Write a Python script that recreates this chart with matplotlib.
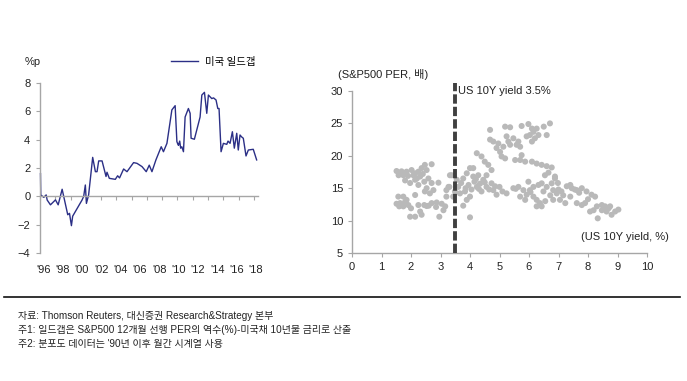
import numpy as np
import matplotlib
matplotlib.use("Agg")
import matplotlib.pyplot as plt
import matplotlib.transforms as mtransforms

plt.rcParams['font.family'] = ['Liberation Sans', 'Noto Sans CJK KR', 'DejaVu Sans']
plt.rcParams['axes.unicode_minus'] = True

# 미국 일드갭 (%p), 연도 소수 표기
gap_year = [1996.0, 1996.03, 1996.34, 1996.59, 1996.69, 1997.03, 1997.55, 1997.83, 1998.24,
            1998.82, 1999.0, 1999.2, 1999.33, 2000.3, 2000.47, 2000.64, 2000.75, 2000.98,
            2001.4, 2001.68, 2001.85, 2002.02, 2002.37, 2002.78, 2002.88, 2003.12, 2003.74,
            2003.98, 2004.18, 2004.6, 2004.95, 2005.63, 2005.98, 2006.5, 2006.94, 2007.25,
            2007.53, 2007.94, 2008.49, 2008.72, 2009.08, 2009.59, 2009.93, 2010.11, 2010.2,
            2010.27, 2010.4, 2010.5, 2010.62, 2010.79, 2010.96, 2011.3, 2011.48, 2011.58,
            2011.92, 2012.51, 2012.69, 2012.96, 2013.2, 2013.37, 2013.72, 2013.9, 2014.16,
            2014.34, 2014.47, 2014.68, 2014.92, 2015.27, 2015.4, 2015.61, 2015.85, 2016.05,
            2016.3, 2016.46, 2016.64, 2016.8, 2016.98, 2017.26, 2017.5, 2018.01, 2018.36]
gap_val = [1.6, 0.1, -0.07, 0.1, -0.26, -0.6, -0.25, -0.6, 0.5,
           -1.3, -1.2, -2.07, -1.4, -0.26, 0.0, 0.8, -0.5, 0.1,
           2.75, 1.74, 1.74, 2.5, 2.5, 1.4, 1.7, 1.27, 1.2,
           1.45, 1.3, 1.93, 1.74, 2.38, 2.33, 2.1, 1.74, 2.2,
           1.74, 2.57, 3.5, 3.15, 3.74, 6.1, 6.4, 3.86, 3.7,
           3.6, 3.9, 3.4, 3.5, 3.15, 5.6, 6.2, 5.86, 4.1,
           4.03, 5.6, 7.15, 7.34, 5.86, 7.15, 6.9, 6.95, 6.8,
           6.2, 6.2, 3.15, 3.74, 3.67, 3.9, 3.74, 4.56, 3.4,
           4.45, 3.27, 4.33, 4.2, 4.1, 2.85, 3.27, 3.32, 2.57]
year_labels = ["'96", "'98", "'00", "'02", "'04", "'06", "'08", "'10", "'12", "'14", "'16", "'18"]
year_label_pos = [1996, 1998, 2000, 2002, 2004, 2006, 2008, 2010, 2012, 2014, 2016, 2018]

# 분포도: 미국 10년물 금리(%) vs S&P500 PER(배)
yld = [1.51, 1.63, 1.74, 1.85, 2.02, 2.14, 2.25, 2.36, 2.47, 2.7, 2.53, 2.31, 2.14, 1.97, 2.59,
       2.7, 2.93, 2.53, 2.47, 2.64, 2.76, 2.25, 1.58, 1.68, 1.9, 2.08, 2.2, 2.4, 2.45, 1.8,
       1.57, 1.74, 1.85, 1.63, 1.51, 1.74, 1.91, 2.14, 2.25, 1.97, 2.14, 2.36, 2.31, 2.53, 2.7,
       2.87, 3.04, 3.16, 3.1, 2.96, 3.2, 3.2, 3.3, 3.38, 1.6, 1.8, 2.0, 2.45, 2.6, 2.85,
       3.27, 3.43, 3.32, 3.6, 3.77, 3.89, 4.0, 4.11, 3.83, 4.0, 3.89, 3.77, 4.0, 4.23, 4.34,
       4.45, 4.39, 4.56, 4.73, 4.79, 4.9, 5.0, 5.1, 5.24, 3.49, 3.55, 3.66, 4.11, 4.28, 4.56,
       4.23, 4.39, 4.5, 4.62, 4.73, 3.7, 3.95, 4.15, 4.3, 4.5, 4.65, 4.85, 3.85, 4.05, 4.2,
       4.68, 4.68, 4.79, 4.96, 4.9, 5.02, 5.13, 5.07, 5.19, 5.3, 5.24, 5.19, 5.36, 5.47, 5.64,
       5.7, 5.36, 5.58, 5.75, 5.75, 5.98, 6.1, 6.15, 6.26, 5.92, 6.03, 6.2, 6.32, 6.1, 6.5,
       6.71, 6.6, 5.53, 5.7, 5.87, 6.1, 6.26, 6.43, 6.6, 6.77, 6.66, 6.54, 6.88, 5.47, 5.64,
       5.81, 5.98, 6.03, 5.92, 6.15, 6.26, 6.37, 6.26, 6.43, 6.15, 6.32, 6.43, 6.49, 6.6, 6.77,
       6.82, 6.94, 6.88, 6.72, 6.82, 5.87, 5.7, 5.55, 6.05, 6.55, 7.0, 7.28, 7.45, 7.62, 7.79,
       7.95, 8.12, 8.24, 7.16, 7.05, 7.23, 7.4, 7.62, 7.79, 7.9, 8.07, 8.19, 8.3, 8.47, 8.58,
       8.47, 8.63, 8.8, 8.33, 8.92, 9.03, 8.75, 7.4, 7.55, 7.7, 8.0, 7.1, 6.98, 8.55, 8.7]
per = [17.65, 17.3, 17.0, 17.55, 17.8, 17.3, 17.55, 18.1, 18.6, 18.7, 17.8, 16.8, 16.3, 15.8, 16.5,
       15.8, 15.85, 15.0, 14.5, 14.2, 14.7, 15.5, 17.0, 17.6, 16.9, 17.0, 16.5, 17.2, 16.0, 16.2,
       13.7, 13.7, 13.2, 12.7, 12.6, 12.2, 12.4, 13.95, 12.4, 10.6, 10.6, 10.9, 11.4, 12.25, 12.7,
       12.8, 12.6, 12.2, 11.6, 10.6, 13.7, 14.7, 15.2, 17.0, 12.2, 12.9, 11.9, 12.4, 12.3, 12.1,
       15.2, 13.7, 17.0, 15.2, 16.5, 17.3, 18.1, 18.1, 14.5, 13.7, 13.2, 12.3, 10.5, 15.2, 15.7,
       16.3, 14.5, 15.2, 15.75, 14.7, 14.0, 15.2, 14.5, 14.2, 14.5, 16.3, 14.2, 16.8, 17.0, 17.0,
       20.4, 19.9, 19.1, 18.6, 17.8, 15.8, 15.5, 16.0, 14.9, 15.9, 14.8, 15.3, 15.0, 14.8, 16.4,
       24.0, 22.5, 22.2, 21.9, 21.2, 20.6, 21.4, 19.9, 19.6, 22.2, 23.0, 24.5, 24.4, 22.7, 22.2,
       21.4, 21.7, 21.7, 20.1, 24.6, 24.9, 24.2, 23.7, 24.2, 23.0, 23.2, 22.7, 23.2, 22.2, 24.5,
       25.0, 23.2, 19.35, 19.35, 19.1, 19.1, 18.8, 18.6, 18.4, 18.2, 17.4, 17.0, 16.8, 15.0, 15.2,
       14.7, 16.0, 14.7, 14.0, 13.7, 13.2, 12.7, 12.2, 12.2, 15.2, 15.5, 15.75, 14.5, 15.2, 15.75,
       14.7, 14.2, 16.5, 13.9, 13.2, 13.2, 13.7, 14.9, 14.4, 13.0, 14.8, 15.3, 15.0, 14.7, 15.0,
       14.5, 14.0, 13.7, 13.9, 13.2, 12.7, 13.7, 12.7, 12.4, 12.7, 11.4, 11.6, 12.2, 12.4, 12.2,
       11.6, 11.4, 10.9, 10.35, 11.4, 11.7, 12.2, 15.5, 14.8, 14.3, 13.3, 14.5, 15.8, 11.8, 11.9]

gray = '#a6a6a6'
txt = '#222222'

fig = plt.figure(figsize=(6.87, 3.81), dpi=100)

# ---- 왼쪽: 미국 일드갭 ----
ax1 = fig.add_axes([40 / 687, 1 - 253 / 381, 218 / 687, 170 / 381])
ax1.plot(gap_year, gap_val, color='#2b2f86', lw=1.0, label='미국 일드갭', clip_on=False)
ax1.set_xlim(1995.95, 2018.5)
ax1.set_ylim(-4, 8)
ax1.set_yticks([-4, -2, 0, 2, 4, 6, 8])
ax1.spines['top'].set_visible(False)
ax1.spines['right'].set_visible(False)
ax1.spines['bottom'].set_position(('data', 0))
for s in ['left', 'bottom']:
    ax1.spines[s].set_color(gray)
    ax1.spines[s].set_linewidth(1.0)
ax1.set_xticks(np.arange(1995.95, 2019, 1.58))
ax1.set_xticklabels([])
ax1.tick_params(axis='both', colors=gray, length=3, width=0.8, direction='out')
ax1.tick_params(axis='y', labelcolor=txt, labelsize=8, pad=4)
trans = mtransforms.blended_transform_factory(ax1.transData, ax1.transAxes)
for xp, lab in zip(year_label_pos, year_labels):
    ax1.text(xp + 0.3, -0.1, lab, transform=trans, ha='center', va='center',
             fontsize=8, color=txt)
fig.text(25 / 687, 1 - 62 / 381, '%p', fontsize=8, color=txt, va='center')
ax1.legend(loc='upper right', bbox_to_anchor=(1.03, 1.21), frameon=False,
           handlelength=2.6, handletextpad=0.6,
           prop={'family': ['Noto Sans CJK KR'], 'size': 7.5})

# ---- 오른쪽: 금리 vs PER 분포도 ----
ax2 = fig.add_axes([352 / 687, 1 - 253 / 381, 295 / 687, 162 / 381])
ax2.scatter(yld, per, s=19, color='#b9b9b9', edgecolors='none', zorder=2)
ax2.set_xlim(0, 10)
ax2.set_ylim(5, 30)
ax2.set_xticks(range(0, 11))
ax2.set_yticks([5, 10, 15, 20, 25, 30])
ax2.spines['top'].set_visible(False)
ax2.spines['right'].set_visible(False)
for s in ['left', 'bottom']:
    ax2.spines[s].set_color(gray)
    ax2.spines[s].set_linewidth(1.0)
ax2.tick_params(axis='both', colors=gray, length=3, width=0.8, direction='out',
                labelcolor=txt, labelsize=8)
ax2.plot([3.5, 3.5], [5, 31.3], color='#404040', lw=2.8, linestyle=(0, (2.4, 0.8)),
         clip_on=False, zorder=3)
ax2.text(3.6, 30, 'US 10Y yield 3.5%', fontsize=8, color=txt, va='center')
ax2.text(10.75, 7.5, '(US 10Y yield, %)', fontsize=8, color=txt, va='center', ha='right')
fig.text(338 / 687, 1 - 75 / 381, '(S&P500 PER, 배)', fontsize=8, color=txt, va='center')

# ---- 하단 주석 ----
fig.add_artist(plt.Line2D([4 / 687, 680 / 687], [1 - 297 / 381, 1 - 297 / 381],
                          color='#111111', lw=1.2))
notes = ['자료: Thomson Reuters, 대신증권 Research&Strategy 본부',
         '주1: 일드갭은 S&P500 12개월 선행 PER의 역수(%)-미국채 10년물 금리로 산출',
         "주2: 분포도 데이터는 '90년 이후 월간 시계열 사용"]
for i, line in enumerate(notes):
    fig.text(18 / 687, 1 - (316 + i * 14) / 381, line, fontsize=7.2, color=txt, va='center',
             family=['Liberation Sans', 'Noto Sans CJK KR'])

fig.savefig('out.png', dpi=100)
